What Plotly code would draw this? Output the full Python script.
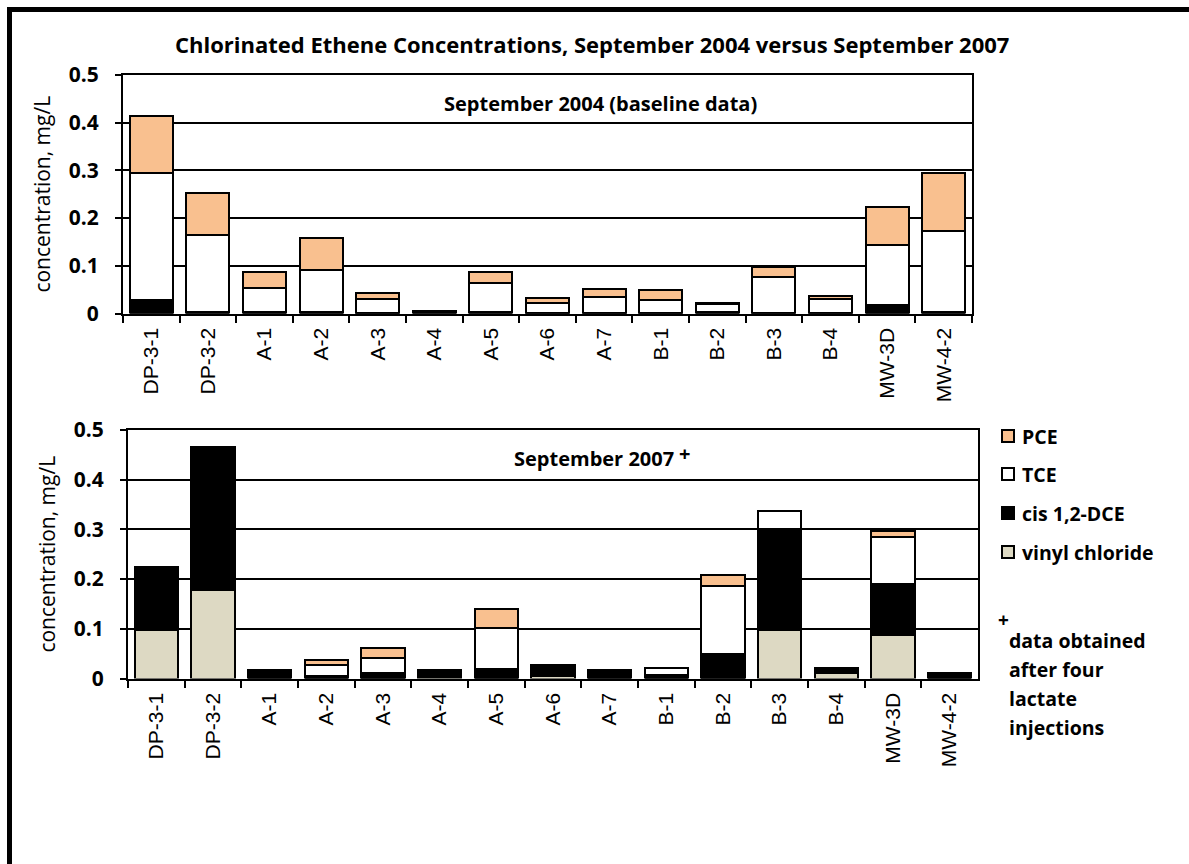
import plotly.graph_objects as go

sites = ["DP-3-1", "DP-3-2", "A-1", "A-2", "A-3", "A-4", "A-5", "A-6", "A-7",
         "B-1", "B-2", "B-3", "B-4", "MW-3D", "MW-4-2"]

# September 2004 (baseline), mg/L
vc04 = [0, 0, 0, 0, 0, 0, 0, 0, 0, 0, 0, 0, 0, 0, 0]
dce04 = [0.028, 0.003, 0.003, 0.003, 0.002, 0.004, 0.003, 0.002, 0.002, 0.002, 0.003, 0.002, 0.002, 0.018, 0.003]
tce04 = [0.267, 0.162, 0.050, 0.088, 0.028, 0.002, 0.060, 0.021, 0.033, 0.026, 0.017, 0.074, 0.028, 0.126, 0.170]
pce04 = [0.120, 0.087, 0.033, 0.068, 0.014, 0.000, 0.023, 0.009, 0.016, 0.021, 0.003, 0.022, 0.007, 0.080, 0.121]

# September 2007, mg/L
vc07 = [0.097, 0.178, 0, 0, 0, 0.004, 0, 0.005, 0, 0, 0, 0.097, 0.012, 0.087, 0]
dce07 = [0.128, 0.288, 0.018, 0.005, 0.011, 0.013, 0.020, 0.023, 0.017, 0.007, 0.049, 0.203, 0.010, 0.104, 0.012]
tce07 = [0, 0, 0, 0.022, 0.030, 0, 0.081, 0, 0, 0.015, 0.137, 0.037, 0, 0.094, 0]
pce07 = [0, 0, 0, 0.010, 0.021, 0, 0.038, 0, 0, 0, 0.023, 0, 0, 0.011, 0]

series_names = ["vinyl chloride", "cis 1,2-DCE", "TCE", "PCE"]
colors = {"vinyl chloride": "#DDD9C3", "cis 1,2-DCE": "#000000", "TCE": "#FFFFFF", "PCE": "#F9C08F"}

W, H = 1189, 864
def px_x(p): return p / W
def px_y(p): return 1 - p / H

fig = go.Figure()
for name, vals in zip(series_names, [vc04, dce04, tce04, pce04]):
    fig.add_trace(go.Bar(x=sites, y=vals, name=name, marker=dict(color=colors[name], line=dict(color="black", width=2)),
                         xaxis="x", yaxis="y", showlegend=False))
for name, vals in zip(series_names, [vc07, dce07, tce07, pce07]):
    fig.add_trace(go.Bar(x=sites, y=vals, name=name, marker=dict(color=colors[name], line=dict(color="black", width=2)),
                         xaxis="x2", yaxis="y2", showlegend=False))

BOLD = "Open Sans"
axis_common_x = dict(type="category", showline=True, linecolor="black", linewidth=2, mirror=True,
                     ticks="outside", tickson="boundaries", ticklen=7, tickwidth=2, tickcolor="black",
                     tickangle=-90, tickfont=dict(family="Liberation Sans, Arial", size=21, color="black"),
                     ticklabelstandoff=4, automargin=False,
                     showgrid=False, fixedrange=True)
axis_common_y = dict(range=[0, 0.5], dtick=0.1, showline=True, linecolor="black", linewidth=2, mirror=True,
                     showgrid=True, gridcolor="black", gridwidth=2, zeroline=False,
                     ticks="outside", ticklen=6, tickwidth=2, tickcolor="black",
                     tickfont=dict(family=BOLD, size=21, color="black", weight="bold"),
                     tickformat="~g", ticklabelstandoff=12, automargin=False, fixedrange=True,
                     title=dict(text="concentration, mg/L", font=dict(family=BOLD, size=21, color="black"), standoff=12))

fig.update_layout(
    width=W, height=H, margin=dict(l=0, r=0, t=0, b=0, autoexpand=False),
    paper_bgcolor="white", plot_bgcolor="white",
    barmode="stack", bargap=0.24,
    xaxis=dict(domain=[px_x(123), px_x(972)], anchor="y", **axis_common_x),
    yaxis=dict(domain=[px_y(313.5), px_y(75)], anchor="x", **axis_common_y),
    xaxis2=dict(domain=[px_x(128), px_x(978)], anchor="y2", **axis_common_x),
    yaxis2=dict(domain=[px_y(678.5), px_y(430)], anchor="x2", **axis_common_y),
)

annotations = [
    dict(text="Chlorinated Ethene Concentrations, September 2004 versus September 2007",
         x=px_x(592), y=px_y(44), xref="paper", yref="paper", showarrow=False,
         font=dict(family=BOLD, size=22, color="black", weight="bold"), xanchor="center", yanchor="middle"),
    dict(text="September 2004 (baseline data)", x=px_x(600), y=px_y(103), xref="paper", yref="paper",
         showarrow=False, font=dict(family=BOLD, size=20, color="black", weight="bold"), xanchor="center", yanchor="middle"),
    dict(text="September 2007", x=px_x(512), y=px_y(458), xref="paper", yref="paper",
         showarrow=False, font=dict(family=BOLD, size=20, color="black", weight="bold"), xanchor="left", yanchor="middle"),
    dict(text="+", x=px_x(677), y=px_y(453), xref="paper", yref="paper",
         showarrow=False, font=dict(family=BOLD, size=20, color="black", weight="bold"), xanchor="left", yanchor="middle"),
    dict(text="+", x=px_x(996), y=px_y(620), xref="paper", yref="paper",
         showarrow=False, font=dict(family=BOLD, size=19, color="black", weight="bold"), xanchor="left", yanchor="middle"),
]
foot_lines = ["data obtained", "after four", "lactate", "injections"]
for i, t in enumerate(foot_lines):
    annotations.append(dict(text=t, x=px_x(1007), y=px_y(640 + 29 * i), xref="paper", yref="paper", showarrow=False,
                            font=dict(family=BOLD, size=19.5, color="black", weight="bold"), xanchor="left", yanchor="middle"))

shapes = [dict(type="rect", xref="paper", yref="paper", x0=px_x(9.5), y0=-0.1, x1=1.1, y1=px_y(9.5),
               line=dict(color="black", width=5), fillcolor="rgba(0,0,0,0)")]

legend_items = ["PCE", "TCE", "cis 1,2-DCE", "vinyl chloride"]
legend_y = [436, 474, 513, 552]
for name, yy in zip(legend_items, legend_y):
    shapes.append(dict(type="rect", xref="paper", yref="paper", x0=px_x(1002), x1=px_x(1014),
                       y0=px_y(yy + 6), y1=px_y(yy - 6), fillcolor=colors[name], line=dict(color="black", width=2)))
    annotations.append(dict(text=name, x=px_x(1020), y=px_y(yy), xref="paper", yref="paper", showarrow=False,
                            font=dict(family=BOLD, size=19.5, color="black", weight="bold"), xanchor="left", yanchor="middle"))

fig.update_layout(annotations=annotations, shapes=shapes)
fig.write_html("out.html", config={"displayModeBar": False},
               post_script="document.body.style.margin='0px'; document.body.style.overflow='hidden';")
